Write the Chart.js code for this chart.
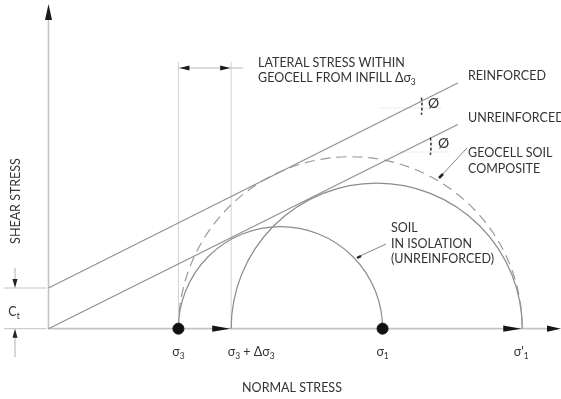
<!DOCTYPE html>
<html>
<head>
<meta charset="utf-8">
<script src="https://cdn.jsdelivr.net/npm/chart.js@4.4.0/dist/chart.umd.min.js"></script>
<style>
  html, body { margin: 0; padding: 0; background: #fff; }
  #wrap { width: 561px; height: 399px; position: relative; }
</style>
</head>
<body>
<div id="wrap"><canvas id="mohrChart"></canvas></div>
<script>
// Mohr circle schematic - values in arbitrary stress units, origin = 0
const stressLabels = ['σ3', 'σ3 + Δσ3', 'σ1', "σ'1"];
const normalStress = [133, 187, 342, 485];   // sigma3, sigma3+dsigma3, sigma1, sigma1'
const dotStress = [133, 342];

const circleNames = ['SOIL IN ISOLATION', 'UNREINFORCED', 'GEOCELL SOIL COMPOSITE'];
const circleLow = [133, 187, 133];
const circleHigh = [342, 485, 485];

const envelopeX = [0, 419];
const unreinforcedY = [0, 211];
const reinforcedY = [42, 254];
const cohesion = 42;

const FONT = "Lato, 'Open Sans', sans-serif";
const FS = 12.5;
const TEXT = '#333';

// draws text made of [string, isSubscript] parts
function drawParts(ctx, parts, x, y, align, size) {
    size = size || FS;
    let w = 0;
    parts.forEach(p => {
        ctx.font = (p[1] ? size * 0.68 : size) + 'px ' + FONT;
        w += ctx.measureText(p[0]).width;
    });
    let cx = align === 'center' ? x - w / 2 : x;
    ctx.textAlign = 'left';
    ctx.textBaseline = 'alphabetic';
    parts.forEach(p => {
        ctx.font = (p[1] ? size * 0.68 : size) + 'px ' + FONT;
        ctx.fillText(p[0], cx, y + (p[1] ? 3 : 0));
        cx += ctx.measureText(p[0]).width;
    });
}

function arrowHead(ctx, x, y, dir, len, half) {
    // dir: 'left' | 'right' | 'up' | 'down' ; (x,y) is the tip
    ctx.beginPath();
    ctx.moveTo(x, y);
    if (dir === 'right') { ctx.lineTo(x - len, y - half); ctx.lineTo(x - len, y + half); }
    if (dir === 'left') { ctx.lineTo(x + len, y - half); ctx.lineTo(x + len, y + half); }
    if (dir === 'up') { ctx.lineTo(x - half, y + len); ctx.lineTo(x + half, y + len); }
    if (dir === 'down') { ctx.lineTo(x - half, y - len); ctx.lineTo(x + half, y - len); }
    ctx.closePath();
    ctx.fill();
}

function line(ctx, x1, y1, x2, y2) {
    ctx.beginPath();
    ctx.moveTo(x1, y1);
    ctx.lineTo(x2, y2);
    ctx.stroke();
}

const mohrPlugin = {
    id: 'mohr',
    beforeDatasetsDraw(chart) {
        const { ctx, scales: { x, y } } = chart;
        const ox = x.getPixelForValue(0), oy = y.getPixelForValue(0);
        ctx.save();

        // construction verticals at sigma3 and sigma3 + dsigma3
        ctx.strokeStyle = '#d2d2d2';
        ctx.lineWidth = 1;
        [normalStress[0], normalStress[1]].forEach(v => {
            const px = x.getPixelForValue(v);
            line(ctx, px, 62, px, oy);
        });

        // faint reference lines for the friction angles
        ctx.strokeStyle = '#ededed';
        line(ctx, 380, 108, 442, 108);
        line(ctx, 395, 152, 448, 152);

        // axes
        ctx.strokeStyle = '#c4c4c4';
        ctx.lineWidth = 1.6;
        line(ctx, ox, oy, ox, 18);
        line(ctx, ox, oy, 552, oy);
        ctx.fillStyle = '#1a1a1a';
        arrowHead(ctx, ox, 4, 'up', 16, 3.5);

        // C_t dimension
        ctx.strokeStyle = '#c4c4c4';
        ctx.lineWidth = 1;
        const cy = y.getPixelForValue(cohesion);
        line(ctx, 4, cy, ox - 2, cy);
        line(ctx, 4, oy, ox - 2, oy);
        ctx.strokeStyle = '#b0b0b0';
        line(ctx, 15, 268, 15, cy - 6);
        line(ctx, 15, oy + 6, 15, 357);
        ctx.fillStyle = '#222';
        arrowHead(ctx, 15, cy, 'down', 9, 2.5);
        arrowHead(ctx, 15, oy, 'up', 9, 2.5);

        // Mohr circles
        circleLow.forEach((lo, i) => {
            const c = (lo + circleHigh[i]) / 2;
            const cx = x.getPixelForValue(c);
            const r = x.getPixelForValue(circleHigh[i]) - cx;
            ctx.beginPath();
            ctx.strokeStyle = i === 2 ? '#9a9a9a' : '#8c8c8c';
            ctx.lineWidth = 1.2;
            ctx.setLineDash(i === 2 ? [10, 6] : []);
            ctx.arc(cx, oy, r, Math.PI, 2 * Math.PI);
            ctx.stroke();
        });
        ctx.setLineDash([]);
        ctx.restore();
    },
    afterDatasetsDraw(chart) {
        const { ctx, scales: { x, y } } = chart;
        const oy = y.getPixelForValue(0);
        const s = normalStress.map(v => x.getPixelForValue(v));
        ctx.save();

        // arrows on the normal stress axis
        ctx.fillStyle = '#151515';
        arrowHead(ctx, s[1] - 1, oy, 'right', 18, 3.2);
        arrowHead(ctx, s[3] - 1, oy, 'right', 18, 3.2);
        arrowHead(ctx, 561, oy, 'right', 14, 3.2);

        // lateral stress dimension line
        ctx.strokeStyle = '#a8a8a8';
        ctx.lineWidth = 0.8;
        line(ctx, s[0], 68, 243, 68);
        ctx.fillStyle = '#1a1a1a';
        arrowHead(ctx, s[0] + 1, 68, 'left', 10, 2.4);
        arrowHead(ctx, s[1] - 1, 68, 'right', 10, 2.4);

        // friction angle arcs
        ctx.strokeStyle = '#333';
        ctx.lineWidth = 1.5;
        ctx.setLineDash([3, 2]);
        ctx.beginPath();
        ctx.arc(362, 106, 60, -0.14, 0.15);
        ctx.stroke();
        ctx.beginPath();
        ctx.arc(371, 146, 60, -0.14, 0.15);
        ctx.stroke();
        ctx.setLineDash([]);

        // leader lines
        ctx.strokeStyle = '#777';
        ctx.lineWidth = 0.9;
        line(ctx, 440, 177, 467, 148);
        line(ctx, 358, 257, 386, 244);
        ctx.strokeStyle = '#222';
        ctx.lineWidth = 2.5;
        line(ctx, 439, 178, 443, 174);
        line(ctx, 357, 258, 361, 256);

        // text
        ctx.fillStyle = TEXT;
        ctx.font = FS + 'px ' + FONT;
        ctx.textAlign = 'left';
        ctx.fillText('LATERAL STRESS WITHIN', 258, 67);
        drawParts(ctx, [['GEOCELL FROM INFILL Δσ', false], ['3', true]], 258, 82, 'left');
        ctx.font = FS + 'px ' + FONT;
        ctx.fillText('REINFORCED', 468, 80);
        ctx.fillText('UNREINFORCED', 468, 122);
        ctx.fillText('GEOCELL SOIL', 468, 157);
        ctx.fillText('COMPOSITE', 468, 173);
        ctx.fillText('SOIL', 391, 232);
        ctx.fillText('IN ISOLATION', 391, 248);
        ctx.fillText('(UNREINFORCED)', 391, 263);
        ctx.font = '14px ' + FONT;
        ctx.fillText('Ø', 428, 108);
        ctx.fillText('Ø', 438, 148);

        ctx.font = FS + 'px ' + FONT;
        ctx.textAlign = 'center';
        ctx.fillText('NORMAL STRESS', 292, 392);

        // normal stress tick labels
        drawParts(ctx, [['σ', false], ['3', true]], s[0], 356, 'center');
        drawParts(ctx, [['σ', false], ['3', true], [' + Δσ', false], ['3', true]], s[1] + 20, 356, 'center');
        drawParts(ctx, [['σ', false], ['1', true]], s[2], 356, 'center');
        drawParts(ctx, [["σ'", false], ['1', true]], s[3] - 1, 356, 'center');

        drawParts(ctx, [['C', false], ['t', true]], 14, 316, 'center');

        ctx.save();
        ctx.translate(20, 201);
        ctx.rotate(-Math.PI / 2);
        ctx.font = FS + 'px ' + FONT;
        ctx.textAlign = 'center';
        ctx.fillText('SHEAR STRESS', 0, 0);
        ctx.restore();

        ctx.restore();
    }
};

new Chart(document.getElementById('mohrChart'), {
    type: 'scatter',
    data: {
        datasets: [
            {
                label: 'Reinforced',
                data: envelopeX.map((v, i) => ({ x: v, y: reinforcedY[i] })),
                showLine: true,
                borderColor: '#8f8f8f',
                borderWidth: 1.1,
                pointRadius: 0
            },
            {
                label: 'Unreinforced',
                data: envelopeX.map((v, i) => ({ x: v, y: unreinforcedY[i] })),
                showLine: true,
                borderColor: '#8f8f8f',
                borderWidth: 1.1,
                pointRadius: 0
            },
            {
                label: 'Principal stresses',
                data: dotStress.map(v => ({ x: v, y: 0 })),
                showLine: false,
                pointRadius: 5.5,
                backgroundColor: '#111',
                borderColor: '#111'
            }
        ]
    },
    options: {
        responsive: true,
        maintainAspectRatio: false,
        animation: false,
        layout: { padding: 0 },
        plugins: { legend: { display: false }, tooltip: { enabled: false } },
        scales: {
            x: { type: 'linear', min: -43, max: 518, display: false },
            y: { type: 'linear', min: -66, max: 333, display: false }
        }
    },
    plugins: [mohrPlugin]
});
</script>
</body>
</html>
